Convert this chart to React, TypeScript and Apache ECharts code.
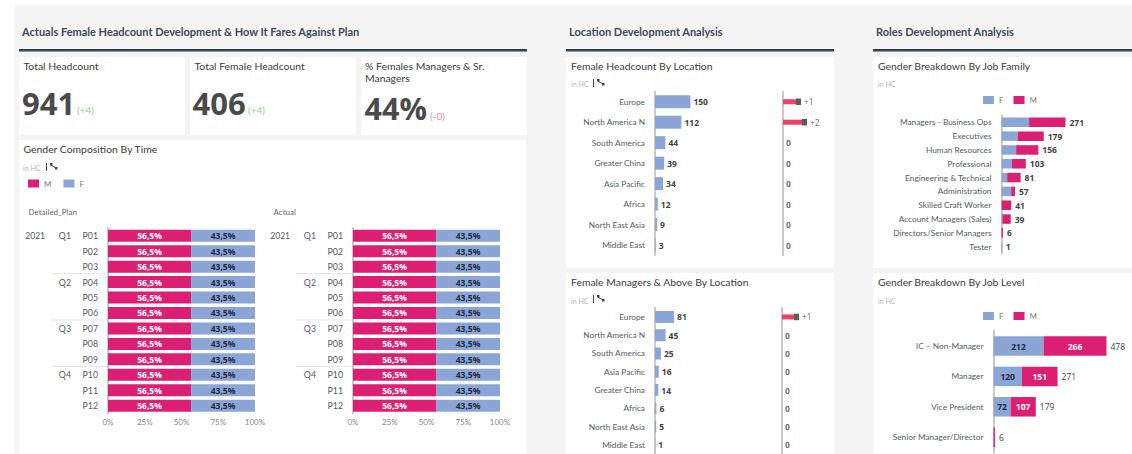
import React, { useEffect, useRef } from "react";
import * as echarts from "echarts";

const FONT = "Lato, 'Open Sans', sans-serif";
const NUMFONT = "'Open Sans', sans-serif";
const PINK = "#dd1f74";
const BLUE = "#8ba6d6";
const GREY = "#555b63";

const periods = ["P01", "P02", "P03", "P04", "P05", "P06", "P07", "P08", "P09", "P10", "P11", "P12"];
const quarters = ["Q1", "", "", "Q2", "", "", "Q3", "", "", "Q4", "", ""];
const years = ["2021", "", "", "", "", "", "", "", "", "", "", ""];
const planM = [56.5, 56.5, 56.5, 56.5, 56.5, 56.5, 56.5, 56.5, 56.5, 56.5, 56.5, 56.5];
const planF = [43.5, 43.5, 43.5, 43.5, 43.5, 43.5, 43.5, 43.5, 43.5, 43.5, 43.5, 43.5];
const actualM = [56.5, 56.5, 56.5, 56.5, 56.5, 56.5, 56.5, 56.5, 56.5, 56.5, 56.5, 56.5];
const actualF = [43.5, 43.5, 43.5, 43.5, 43.5, 43.5, 43.5, 43.5, 43.5, 43.5, 43.5, 43.5];

const loc1Names = ["Europe", "North America N", "South America", "Greater China", "Asia Pacific", "Africa", "North East Asia", "Middle East"];
const loc1Values = [150, 112, 44, 39, 34, 12, 9, 3];
const loc1VarLabels = ["+1", "+2", "0", "0", "0", "0", "0", "0"];
const loc1VarBars = [13, 19, 0, 0, 0, 0, 0, 0];
const loc1VarMarks = [15.5, 21.5, 0, 0, 0, 0, 0, 0];

const loc2Names = ["Europe", "North America N", "South America", "Asia Pacific", "Greater China", "Africa", "North East Asia", "Middle East"];
const loc2Values = [81, 45, 25, 16, 14, 6, 5, 1];
const loc2VarLabels = ["+1", "0", "0", "0", "0", "0", "0", "0"];
const loc2VarBars = [12, 0, 0, 0, 0, 0, 0, 0];
const loc2VarMarks = [14.5, 0, 0, 0, 0, 0, 0, 0];

const familyNames = ["Managers - Business Ops", "Executives", "Human Resources", "Professional", "Engineering & Technical", "Administration", "Skilled Craft Worker", "Account Managers (Sales)", "Directors/Senior Managers", "Tester"];
const familyF = [117, 68, 62, 44, 24, 41, 1, 4, 0, 0];
const familyM = [154, 111, 94, 59, 57, 16, 40, 35, 6, 1];
const familyTotals = [271, 179, 156, 103, 81, 57, 41, 39, 6, 1];

const levelNames = ["IC – Non-Manager", "Manager", "Vice President", "Senior Manager/Director"];
const levelF = [212, 120, 72, 0];
const levelM = [266, 151, 107, 6];
const levelTotals = [478, 271, 179, 6];

const axisLine = { show: true, lineStyle: { color: "#c9c9c9", width: 2 } };
const catLabel = { color: GREY, fontSize: 8.3, fontFamily: FONT, margin: 9, interval: 0 };

function txt(x: number, y: number, text: string, fontSize: number, fill: string, fontWeight: any = 400, fontFamily = FONT) {
  return { type: "text", z: 20, x, y, style: { text, fontSize, fill, fontWeight, fontFamily, verticalAlign: "middle", align: "left" } };
}
function box(x: number, y: number, w: number, h: number, fill: string, z = -10) {
  return { type: "rect", z, shape: { x, y, width: w, height: h }, style: { fill } };
}
function drill(x: number, y: number) {
  return [
    box(x, y - 4, 1, 8, "#444", 20),
    box(x + 4, y - 4, 2.5, 2.5, "#444", 20),
    box(x + 9, y - 0, 2.5, 2.5, "#444", 20),
    { type: "line", z: 20, shape: { x1: x + 5, y1: y - 2, x2: x + 10, y2: y + 1 }, style: { stroke: "#444", lineWidth: 1 } },
  ];
}

function App() {
  const ref = useRef<HTMLDivElement>(null);
  useEffect(() => {
    const chart = echarts.init(ref.current!, undefined, { renderer: "svg" });
    const T = "#3a3a3a";
    const H = "#3c4a5c";
    const TS = 10.4;
    const HS = 11;

    const graphic: any[] = [
      box(15, 5, 1117, 449, "#f4f4f4", -20),
      box(19, 57, 166, 78, "#fff"),
      box(190, 57, 166, 78, "#fff"),
      box(361, 57, 166, 78, "#fff"),
      box(19, 140, 507, 314, "#fff"),
      box(566, 57, 268, 211, "#fff"),
      box(566, 273, 268, 181, "#fff"),
      box(873, 57, 259, 211, "#fff"),
      box(873, 273, 259, 181, "#fff"),
      box(19, 49, 508, 2.5, "#2f4358"),
      box(566, 49, 268, 2.5, "#2f4358"),
      box(873, 49, 259, 2.5, "#2f4358"),
      txt(22, 31.5, "Actuals Female Headcount Development & How It Fares Against Plan", HS, H, 700),
      txt(569, 31.5, "Location Development Analysis", HS, H, 700),
      txt(876, 31.5, "Roles Development Analysis", HS, H, 700),
      txt(23.5, 65.5, "Total Headcount", TS, T),
      txt(194.5, 65.5, "Total Female Headcount", TS, T),
      txt(365, 65.5, "% Females Managers & Sr.", TS, T),
      txt(365, 77.5, "Managers", TS, T),
      txt(22, 103, "941", 31, "#4a4a4a", 700, NUMFONT),
      txt(192.5, 103, "406", 31, "#4a4a4a", 700, NUMFONT),
      txt(364.5, 108, "44%", 30.5, "#4a4a4a", 700, NUMFONT),
      txt(77, 110, "(+4)", 10, "#8fd18f"),
      txt(248, 110, "(+4)", 10, "#8fd18f"),
      txt(430, 115.5, "(-0)", 10, "#f08aa0"),
      txt(23.5, 149, "Gender Composition By Time", TS, T),
      txt(23, 167.5, "in HC", 7, "#b5b5b5"),
      ...drill(46, 167),
      txt(28.5, 212, "Detailed_Plan", 8, "#666"),
      txt(273.5, 212, "Actual", 8, "#666"),
      txt(571, 66, "Female Headcount By Location", TS, T),
      txt(571, 84, "in HC", 7, "#b5b5b5"),
      ...drill(593, 83),
      txt(571, 282, "Female Managers & Above By Location", TS, T),
      txt(571, 300.5, "in HC", 7, "#b5b5b5"),
      ...drill(593, 299),
      txt(878, 66, "Gender Breakdown By Job Family", TS, T),
      txt(878, 84, "in HC", 7, "#b5b5b5"),
      txt(878, 282, "Gender Breakdown By Job Level", TS, T),
      txt(878, 300.5, "in HC", 7, "#b5b5b5"),
    ];
    [51, 296].forEach((x) => {
      [273, 319.5, 366].forEach((y) => graphic.push(box(x, y, 56, 1, "#e6e6e6", 5)));
    });

    const grid: any[] = [];
    const xAxis: any[] = [];
    const yAxis: any[] = [];
    const series: any[] = [];

    const addGrid = (left: number, top: number, width: number, height: number, max: number, names: string[], labelExtra: any = {}) => {
      const g = grid.length;
      grid.push({ left, top, width, height });
      xAxis.push({ type: "value", gridIndex: g, min: 0, max, show: false });
      const y = yAxis.length;
      yAxis.push({ type: "category", position: "left", gridIndex: g, data: names, inverse: true, offset: 1, axisLine, axisTick: { show: false }, axisLabel: { ...catLabel, ...labelExtra } });
      return { x: g, y };
    };

    const timeChart = (left: number, m: number[], f: number[]) => {
      const g = grid.length;
      grid.push({ left, top: 228, width: 147, height: 185.4 });
      xAxis.push({
        type: "value", gridIndex: g, min: 0, max: 100, interval: 25,
        axisLine: { show: false }, axisTick: { show: false }, splitLine: { show: false },
        axisLabel: { color: "#888", fontSize: 8, fontFamily: FONT, margin: 5, formatter: "{value}%" },
      });
      const y = yAxis.length;
      yAxis.push({ type: "category", position: "left", gridIndex: g, data: periods, inverse: true, offset: 1, axisLine, axisTick: { show: false }, axisLabel: { ...catLabel, fontSize: 8.8 } });
      yAxis.push({ type: "category", position: "left", gridIndex: g, data: quarters, inverse: true, offset: 37, axisLine: { show: false }, axisTick: { show: false }, axisLabel: { ...catLabel, fontSize: 8.8, margin: 0 } });
      yAxis.push({ type: "category", position: "left", gridIndex: g, data: years, inverse: true, offset: 63, axisLine: { show: false }, axisTick: { show: false }, axisLabel: { ...catLabel, fontSize: 8.5, margin: 0 } });
      const s = (name: string, data: number[], color: string, lab: string) => ({
        type: "bar", name, stack: "t" + g, data, xAxisIndex: g, yAxisIndex: y, barWidth: 12,
        itemStyle: { color },
        label: { show: true, position: "inside", color: lab, fontSize: 8.5, fontWeight: 700, fontFamily: NUMFONT, formatter: (p: any) => p.value.toFixed(1).replace(".", ",") + "%" },
      });
      series.push(s("M", m, PINK, "#fff"), s("F", f, BLUE, "#1f2a3a"));
    };
    timeChart(108, planM, planF);
    timeChart(353, actualM, actualF);

    const locChart = (top: number, height: number, names: string[], values: number[], axisX: number, varBars: number[], varMarks: number[], varLabels: string[], bw: number) => {
      const a = addGrid(655, top, 118, height, 500, names);
      series.push({
        type: "bar", name: "F", data: values, xAxisIndex: a.x, yAxisIndex: a.y, barWidth: bw, itemStyle: { color: BLUE },
        label: { show: true, position: "right", distance: 3, color: "#444", fontSize: 8.5, fontWeight: 700, fontFamily: NUMFONT },
      });
      const g = grid.length;
      grid.push({ left: axisX + 1, top, width: 50, height });
      xAxis.push({ type: "value", gridIndex: g, min: 0, max: 50, show: false });
      const y = yAxis.length;
      yAxis.push({ type: "category", position: "left", gridIndex: g, data: names, inverse: true, offset: 1, axisLine, axisTick: { show: false }, axisLabel: { show: false } });
      series.push({ type: "bar", name: "Change", data: varBars, xAxisIndex: g, yAxisIndex: y, barWidth: 5, itemStyle: { color: "#ef3f6b" } });
      series.push({
        type: "scatter", name: "Change mark", xAxisIndex: g, yAxisIndex: y, symbol: "rect", z: 5,
        data: varMarks.map((v, i) => ({ value: [v, i], symbolSize: v ? [5, 6.5] : 0, label: { fontWeight: v ? 400 : 700 } })),
        itemStyle: { color: "#333" },
        label: { show: true, position: "right", distance: 3, color: "#444", fontSize: 8.5, fontFamily: NUMFONT, formatter: (p: any) => varLabels[p.dataIndex] },
      });
    };
    locChart(91.5, 163.8, loc1Names, loc1Values, 782, loc1VarBars, loc1VarMarks, loc1VarLabels, 13);
    locChart(307.8, 146.8, loc2Names, loc2Values, 781, loc2VarBars, loc2VarMarks, loc2VarLabels, 12);

    const fam = addGrid(1001.5, 115.4, 130.5, 138.2, 553, familyNames);
    const stackSeries = (a: any, f: number[], m: number[], totals: number[], bw: number, inside: boolean, bold: boolean) => {
      const lab = (color: string) => (inside ? {
        show: true, position: "inside", color, fontSize: 8.5, fontWeight: 700, fontFamily: NUMFONT,
        formatter: (p: any) => (p.value > 0 ? String(p.value) : ""),
      } : { show: false });
      series.push({ type: "bar", name: "F", stack: "s" + a.x, data: f, xAxisIndex: a.x, yAxisIndex: a.y, barWidth: bw, itemStyle: { color: BLUE }, label: lab("#1f2a3a") });
      series.push({ type: "bar", name: "M", stack: "s" + a.x, data: m.map((v, i) => ({ value: v, label: { show: inside && i < 3 } })), xAxisIndex: a.x, yAxisIndex: a.y, barWidth: bw, itemStyle: { color: PINK }, label: lab("#fff") });
      series.push({
        type: "bar", name: "Total", stack: "s" + a.x, data: totals.map(() => 0), xAxisIndex: a.x, yAxisIndex: a.y, barWidth: bw,
        label: { show: true, position: "right", distance: 4, color: "#444", fontSize: 8.5, fontWeight: bold ? 700 : 400, fontFamily: NUMFONT, formatter: (p: any) => String(totals[p.dataIndex]) },
      });
    };
    stackSeries(fam, familyF, familyM, familyTotals, 9.5, false, true);
    const lev = addGrid(993.5, 330.8, 138.5, 121.6, 586, levelNames);
    stackSeries(lev, levelF, levelM, levelTotals, 19.5, true, false);

    const legendBase = { padding: 0, itemWidth: 11, itemHeight: 8, itemGap: 10, selectedMode: false, icon: "rect", textStyle: { color: "#777", fontSize: 8, fontFamily: FONT } };

    chart.setOption({
      animation: false,
      backgroundColor: "#fff",
      legend: [
        { ...legendBase, itemGap: 12, left: 28, top: 179.5, data: ["M", "F"] },
        { ...legendBase, left: 983, top: 96, data: ["F", "M"] },
        { ...legendBase, left: 983, top: 312, data: ["F", "M"] },
      ],
      grid, xAxis, yAxis, series, graphic,
    });
    return () => chart.dispose();
  }, []);
  return <div ref={ref} style={{ width: 1132, height: 454, position: "absolute", left: 0, top: 0 }} />;
}

export default App;
